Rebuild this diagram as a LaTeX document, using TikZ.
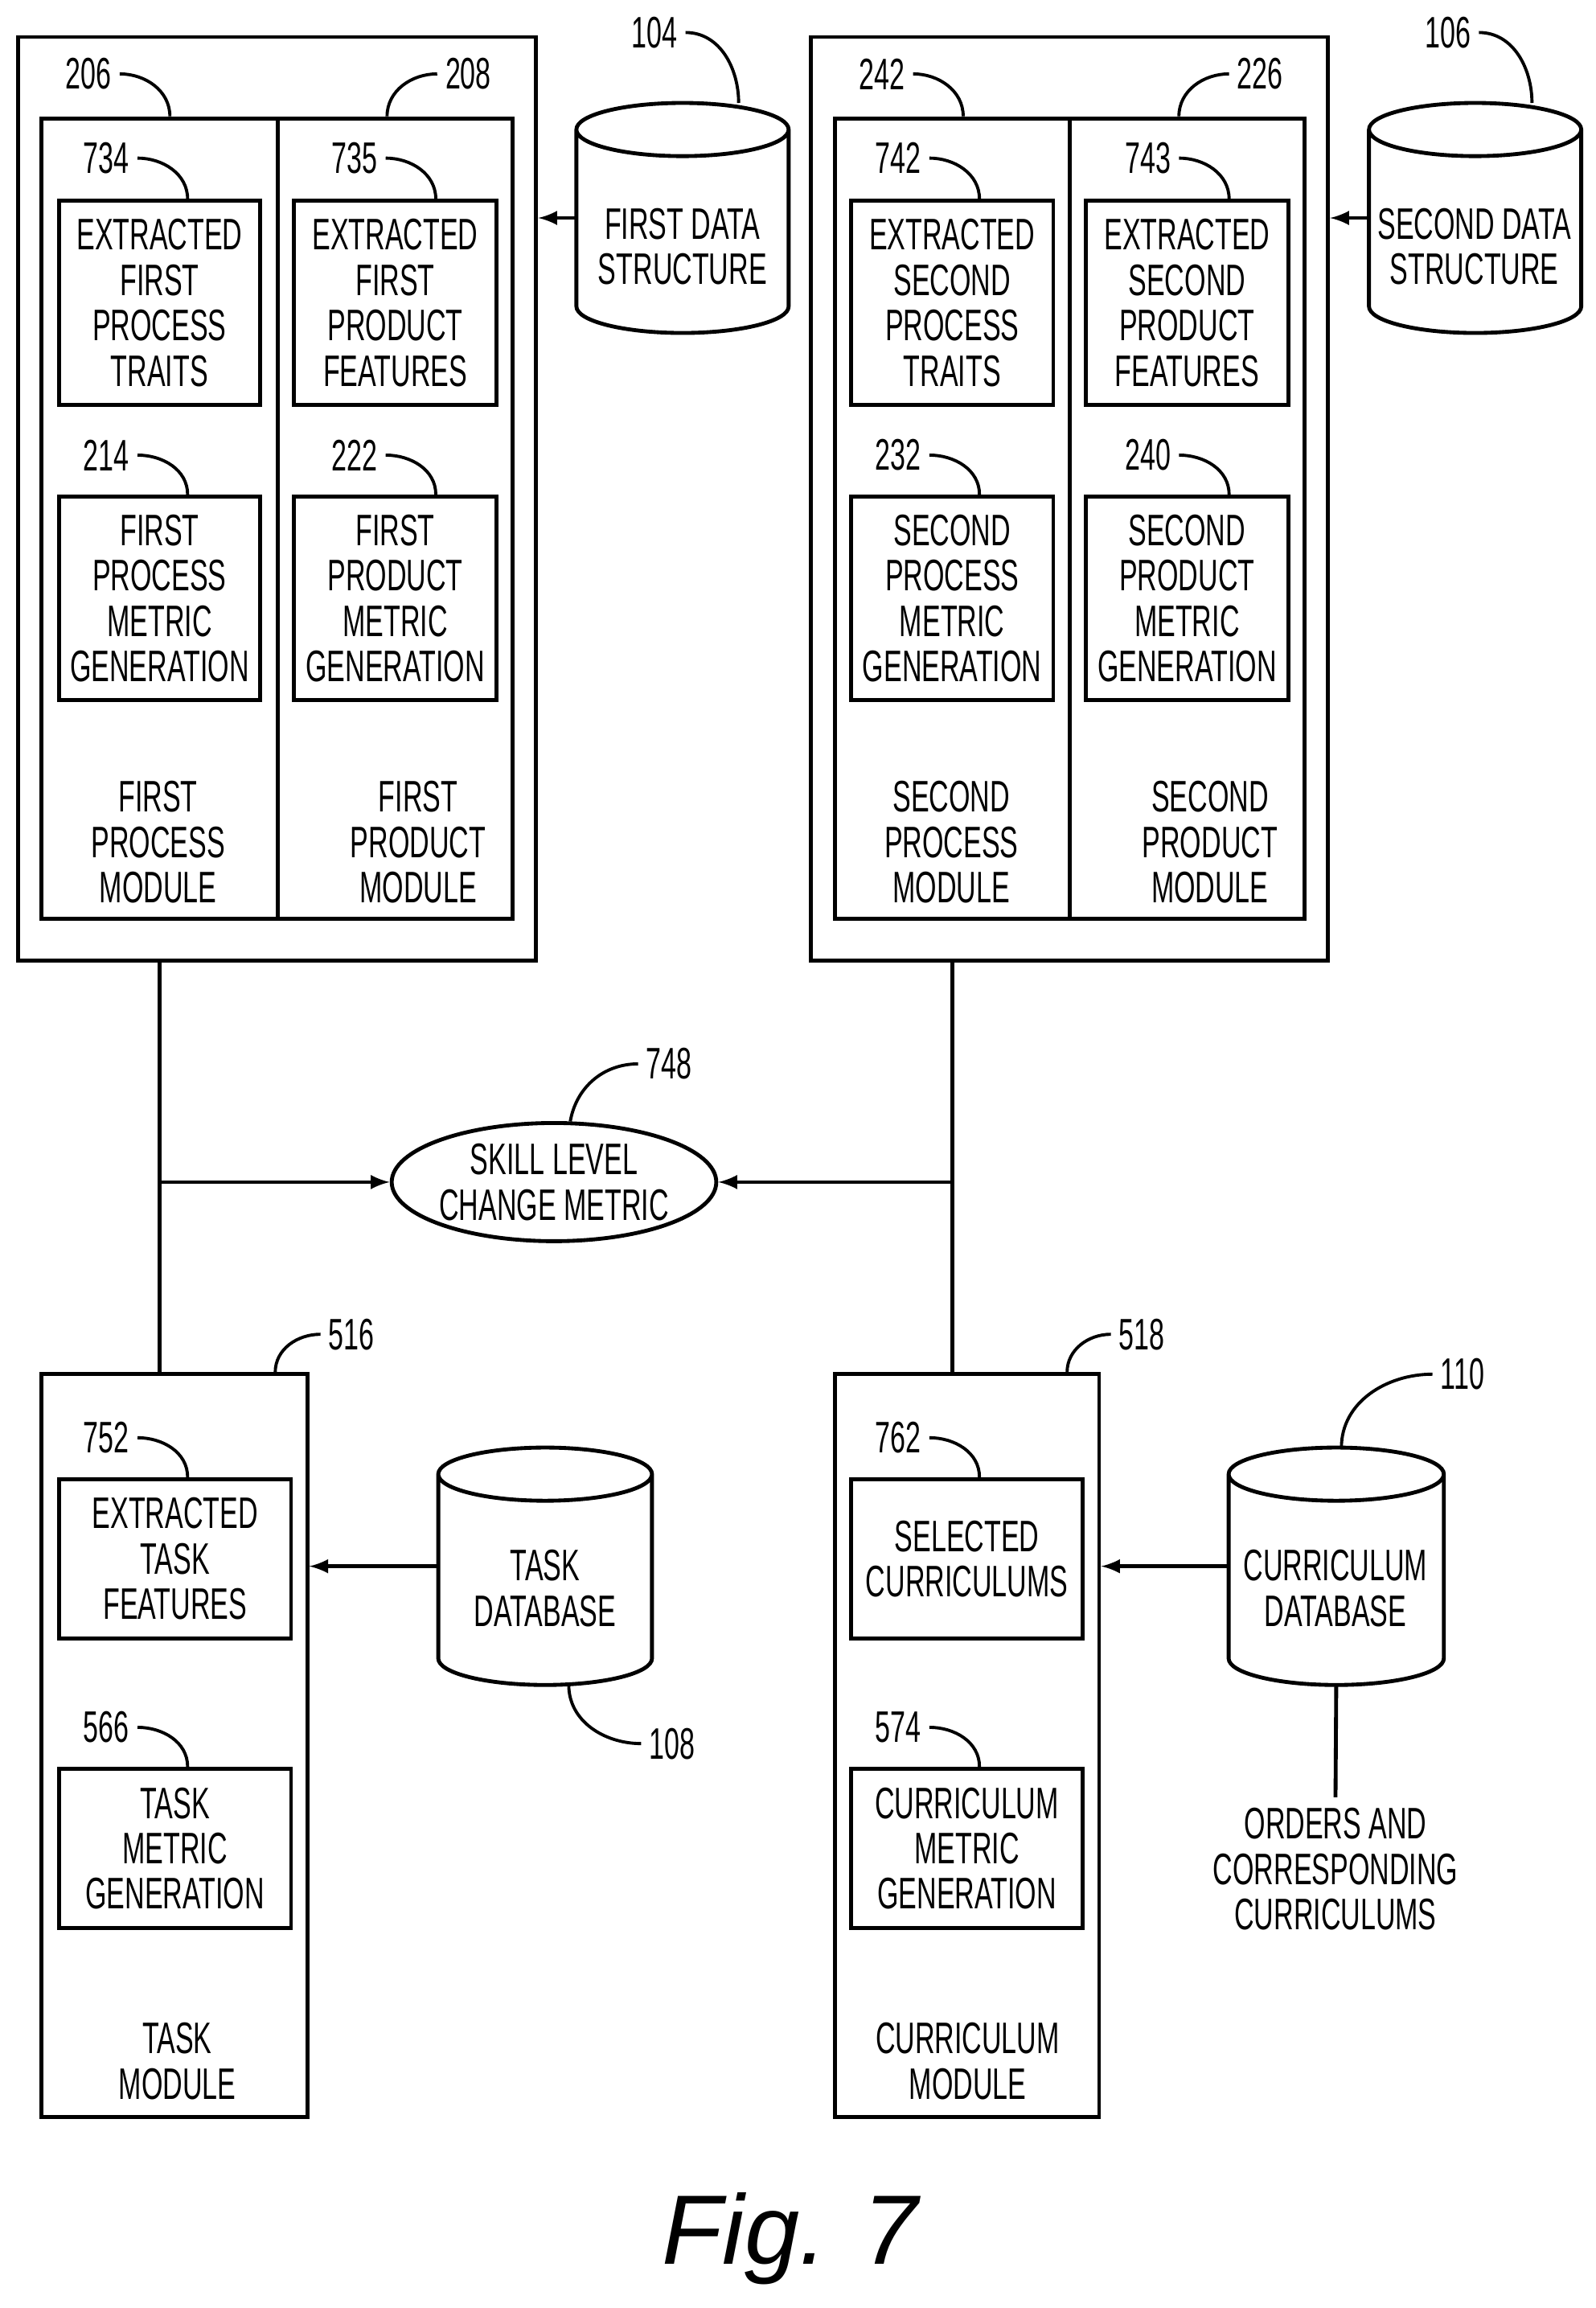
\documentclass[tikz,border=0pt]{standalone}
\usepackage{fontspec}
\newfontfamily\pat[FakeStretch=0.62]{Liberation Sans}
\newfontfamily\figf{Liberation Sans}
\usetikzlibrary{shapes,arrows,positioning,calc}

% cylinder outline around a named rectangle node
\newcommand\drawcyl[1]{%
  \draw[line width=1.5pt] let \p1=(#1.north west), \p2=(#1.south east), \n1={0.5*(\x2-\x1)} in
    (\x1,\y1-0.36cm) -- (\x1,\y2+0.36cm)
    arc[start angle=180, end angle=360, x radius=\n1, y radius=0.36cm]
    -- (\x2,\y1-0.36cm)
    ({0.5*(\x1+\x2)},\y1-0.36cm) ellipse [x radius=\n1, y radius=0.36cm];}

\begin{document}
\begin{tikzpicture}[x=0.02cm, y=-0.02cm,
    box/.style={draw, line width=1.5pt, inner sep=0pt, align=center,
                font=\pat\fontsize{17}{17.5}\selectfont},
    txt/.style={inner sep=0pt, align=center, font=\pat\fontsize{17}{17.5}\selectfont},
    num/.style={inner sep=3pt, font=\pat\fontsize{17}{17}\selectfont},
    db/.style={inner sep=0pt, minimum width=2.86cm},
    lead/.style={line width=1.2pt},
    line/.style={line width=1.5pt},
    arrow/.style={->, >=latex, line width=1.5pt}
  ]
  \useasboundingbox (0,0) rectangle (1080,1562);

  % first modules
  \node[box, minimum width=7.02cm, minimum height=12.5cm] (outer1) at (187.5,337.5) {};
  \node[box, minimum width=3.2cm, minimum height=10.84cm] (fpm) at (108,351) {};
  \node[box, minimum width=3.18cm, minimum height=10.84cm] (fdm) at (267.5,351) {};
  \node[box, minimum width=2.72cm, minimum height=2.76cm] (ept) at (108,205) {EXTRACTED\\FIRST\\PROCESS\\TRAITS};
  \node[box, minimum width=2.74cm, minimum height=2.76cm] (efp) at (267.5,205) {EXTRACTED\\FIRST\\PRODUCT\\FEATURES};
  \node[box, minimum width=2.72cm, minimum height=2.76cm] (fpmg) at (108,405) {FIRST\\PROCESS\\METRIC\\GENERATION};
  \node[box, minimum width=2.74cm, minimum height=2.76cm] (fdmg) at (267.5,405) {FIRST\\PRODUCT\\METRIC\\GENERATION};
  \node[txt] (fpmt) at (107,570) {FIRST\\PROCESS\\MODULE};
  \node[txt] (fdmt) at (283,570) {FIRST\\PRODUCT\\MODULE};

  % second modules
  \node[box, minimum width=7.0cm, minimum height=12.5cm] (outer2) at (724,337.5) {};
  \node[box, minimum width=3.18cm, minimum height=10.84cm] (spm) at (644.5,351) {};
  \node[box, minimum width=3.18cm, minimum height=10.84cm] (sdm) at (803.5,351) {};
  \node[box, minimum width=2.74cm, minimum height=2.76cm] (esp) at (644.5,205) {EXTRACTED\\SECOND\\PROCESS\\TRAITS};
  \node[box, minimum width=2.74cm, minimum height=2.76cm] (esf) at (803.5,205) {EXTRACTED\\SECOND\\PRODUCT\\FEATURES};
  \node[box, minimum width=2.74cm, minimum height=2.76cm] (spmg) at (644.5,405) {SECOND\\PROCESS\\METRIC\\GENERATION};
  \node[box, minimum width=2.74cm, minimum height=2.76cm] (sdmg) at (803.5,405) {SECOND\\PRODUCT\\METRIC\\GENERATION};
  \node[txt] (spmt) at (644,570) {SECOND\\PROCESS\\MODULE};
  \node[txt] (sdmt) at (819,570) {SECOND\\PRODUCT\\MODULE};

  % data structures
  \node[db, minimum height=3.1cm] (db1) at (462,147.5) {};
  \drawcyl{db1}
  \node[txt] (db1t) at (462,167) {FIRST DATA\\STRUCTURE};
  \node[db, minimum height=3.1cm] (db2) at (998.5,147.5) {};
  \drawcyl{db2}
  \node[txt] (db2t) at (998,167) {SECOND DATA\\STRUCTURE};
  \draw[arrow] (db1.west) -- (db1.west -| outer1.east);
  \draw[arrow] (db2.west) -- (db2.west -| outer2.east);

  % skill level change metric
  \node[draw, line width=1.5pt, ellipse, inner sep=0pt, minimum width=4cm, minimum height=1.6cm,
        align=center, font=\pat\fontsize{17}{17.5}\selectfont] (skill) at (375,800) {SKILL LEVEL\\CHANGE METRIC};

  % task module
  \node[box, minimum width=3.6cm, minimum height=10.06cm] (taskm) at (118,1181.5) {};
  \node[box, minimum width=3.14cm, minimum height=2.16cm] (etf) at (118.5,1055) {EXTRACTED\\TASK\\FEATURES};
  \node[box, minimum width=3.14cm, minimum height=2.16cm] (tmg) at (118.5,1251) {TASK\\METRIC\\GENERATION};
  \node[txt] (taskt) at (120,1395) {TASK\\MODULE};
  \node[db, minimum width=2.88cm, minimum height=3.2cm] (tdb) at (369,1060) {};
  \drawcyl{tdb}
  \node[txt] (tdbt) at (369,1075) {TASK\\DATABASE};
  \draw[arrow] (tdb.west) -- (tdb.west -| taskm.east);

  % curriculum module
  \node[box, minimum width=3.58cm, minimum height=10.06cm] (curm) at (654.5,1181.5) {};
  \node[box, minimum width=3.14cm, minimum height=2.16cm] (sc) at (654.5,1055) {SELECTED\\CURRICULUMS};
  \node[box, minimum width=3.14cm, minimum height=2.16cm] (cmg) at (654.5,1251) {CURRICULUM\\METRIC\\GENERATION};
  \node[txt] (curt) at (655,1395) {CURRICULUM\\MODULE};
  \node[db, minimum width=2.9cm, minimum height=3.2cm] (cdb) at (904.5,1060) {};
  \drawcyl{cdb}
  \node[txt] (cdbt) at (904,1075) {CURRICULUM\\DATABASE};
  \draw[arrow] (cdb.west) -- (cdb.west -| curm.east);
  \node[txt, inner sep=4pt] (orders) at (904,1265) {ORDERS AND\\CORRESPONDING\\CURRICULUMS};
  \draw[line] (cdb.south) -- (orders.north);

  % links to metric
  \draw[line] (outer1.south -| fpm.south) -- (taskm.north -| fpm.south);
  \draw[line] (outer2.south -| spm.south) -- (curm.north -| spm.south);
  \draw[arrow] (skill.west -| fpm.south) -- (skill.west);
  \draw[arrow] (skill.east -| spm.south) -- (skill.east);

  % reference numerals
  \node[num] (n206) at (60,50) {206};
  \node[num] (n208) at (317,50) {208};
  \node[num] (n734) at (72,107) {734};
  \node[num] (n735) at (240,107) {735};
  \node[num] (n214) at (72,308) {214};
  \node[num] (n222) at (240,308) {222};
  \node[num] (n104) at (443,22) {104};
  \node[num] (n242) at (597,50) {242};
  \node[num] (n226) at (853,50) {226};
  \node[num] (n742) at (608,107) {742};
  \node[num] (n743) at (777,107) {743};
  \node[num] (n232) at (608,308) {232};
  \node[num] (n240) at (777,308) {240};
  \node[num] (n106) at (980,22) {106};
  \node[num] (n748) at (453,720) {748};
  \node[num] (n516) at (238,903) {516};
  \node[num] (n518) at (773,903) {518};
  \node[num] (n752) at (72,973) {752};
  \node[num] (n566) at (72,1169) {566};
  \node[num] (n762) at (608,973) {762};
  \node[num] (n574) at (608,1169) {574};
  \node[num] (n108) at (455,1180) {108};
  \node[num] (n110) at (990,930) {110};

  \draw[lead] (n206.east) to[out=0,in=90] ([xshift=0.14cm]fpm.north);
  \draw[lead] (n208.west) to[out=180,in=90] ([xshift=-0.11cm]fdm.north);
  \draw[lead] (n734.east) to[out=0,in=90] ([xshift=0.38cm]ept.north);
  \draw[lead] (n735.east) to[out=0,in=90] ([xshift=0.55cm]efp.north);
  \draw[lead] (n214.east) to[out=0,in=90] ([xshift=0.38cm]fpmg.north);
  \draw[lead] (n222.east) to[out=0,in=90] ([xshift=0.55cm]fdmg.north);
  \draw[lead] (n104.east) to[out=0,in=90] ([xshift=0.76cm]db1.north);
  \draw[lead] (n242.east) to[out=0,in=90] ([xshift=0.15cm]spm.north);
  \draw[lead] (n226.west) to[out=180,in=90] ([xshift=-0.11cm]sdm.north);
  \draw[lead] (n742.east) to[out=0,in=90] ([xshift=0.37cm]esp.north);
  \draw[lead] (n743.east) to[out=0,in=90] ([xshift=0.57cm]esf.north);
  \draw[lead] (n232.east) to[out=0,in=90] ([xshift=0.37cm]spmg.north);
  \draw[lead] (n240.east) to[out=0,in=90] ([xshift=0.57cm]sdmg.north);
  \draw[lead] (n106.east) to[out=0,in=90] ([xshift=0.77cm]db2.north);
  \draw[lead] (n748.west) to[out=180,in=80] (skill.75);
  \draw[lead] ([xshift=-0.46cm]taskm.north east) to[out=90,in=180] (n516.west);
  \draw[lead] ([xshift=-0.46cm]curm.north east) to[out=90,in=180] (n518.west);
  \draw[lead] (n752.east) to[out=0,in=90] ([xshift=0.17cm]etf.north);
  \draw[lead] (n566.east) to[out=0,in=90] ([xshift=0.17cm]tmg.north);
  \draw[lead] (n762.east) to[out=0,in=90] ([xshift=0.17cm]sc.north);
  \draw[lead] (n574.east) to[out=0,in=90] ([xshift=0.17cm]cmg.north);
  \draw[lead] ([xshift=0.32cm]tdb.south) to[out=-90,in=180] (n108.west);
  \draw[lead] ([xshift=0.07cm]cdb.north) to[out=90,in=180] (n110.west);

  \node[font=\figf\fontsize{38}{40}\selectfont\itshape] (fig) at (535,1515) {Fig. 7};
\end{tikzpicture}
\end{document}
